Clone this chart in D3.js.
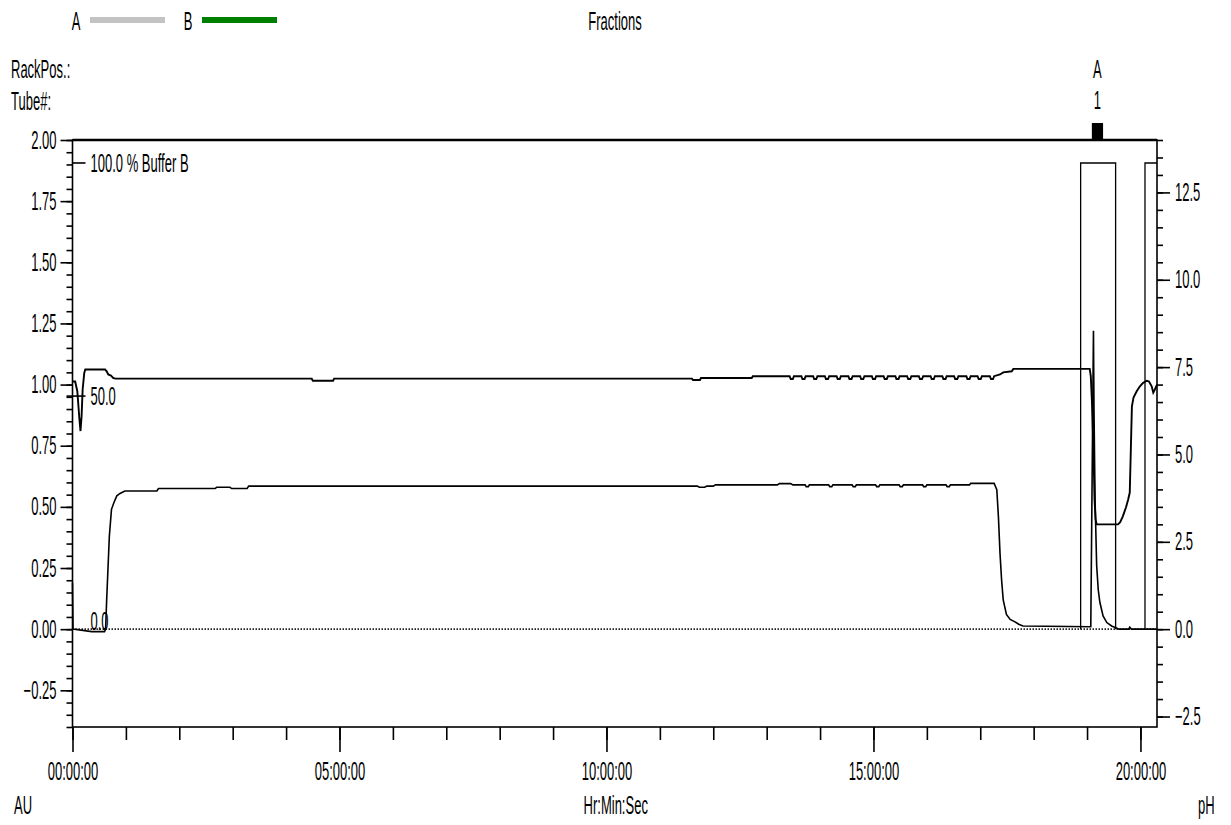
<!DOCTYPE html>
<html>
<head>
<meta charset="utf-8">
<script src="https://cdn.jsdelivr.net/npm/d3@7"></script>
<style>
  body { margin: 0; background: #fff; }
  svg text { font-family: "Liberation Sans", Arial, sans-serif; font-size: 25px; fill: #000; }
</style>
</head>
<body>
<div class="chart"></div>
<script>
// time in hours, UV in AU, pH in pH units, %B in percent
const uvTrace = [
  [0.00, 0.19], [0.01, 0.00], [0.36, -0.01], [0.60, -0.01], [0.62, 0.00],
  [0.64, 0.12], [0.69, 0.38], [0.73, 0.49], [0.78, 0.52], [0.83, 0.545],
  [0.89, 0.555], [0.98, 0.565], [1.58, 0.565], [1.61, 0.575], [2.67, 0.575],
  [2.70, 0.58], [2.95, 0.58], [2.98, 0.575], [3.27, 0.575], [3.30, 0.585],
  [11.70, 0.585], [11.74, 0.58], [11.84, 0.58], [11.88, 0.585], [12.00, 0.585],
  [12.04, 0.59], [13.20, 0.59], [13.24, 0.595], [13.45, 0.595], [13.49, 0.59],
  [13.72, 0.59], [13.74, 0.583], [13.78, 0.583], [13.80, 0.59],
  [14.16, 0.59], [14.18, 0.583], [14.22, 0.583], [14.24, 0.59],
  [14.60, 0.59], [14.62, 0.583], [14.66, 0.583], [14.68, 0.59],
  [15.04, 0.59], [15.06, 0.583], [15.10, 0.583], [15.12, 0.59],
  [15.48, 0.59], [15.50, 0.583], [15.54, 0.583], [15.56, 0.59],
  [15.92, 0.59], [15.94, 0.583], [15.98, 0.583], [16.00, 0.59],
  [16.36, 0.59], [16.38, 0.583], [16.42, 0.583], [16.44, 0.59],
  [16.80, 0.59], [16.82, 0.596], [17.26, 0.596], [17.31, 0.57],
  [17.34, 0.46], [17.37, 0.31], [17.40, 0.20], [17.43, 0.12], [17.49, 0.06],
  [17.56, 0.04], [17.65, 0.03], [17.72, 0.02], [17.80, 0.013], [19.07, 0.01],
  [19.12, 1.22], [19.13, 0.90], [19.15, 0.53], [19.18, 0.26], [19.21, 0.16],
  [19.24, 0.11], [19.30, 0.054], [19.37, 0.027], [19.46, 0.013], [19.55, 0.005],
  [19.60, 0.00], [19.78, 0.00], [19.80, 0.008], [19.83, 0.00], [20.31, 0.00]
];

const phTrace = [
  [0.00, 7.09], [0.05, 7.09], [0.09, 6.81], [0.13, 6.00], [0.15, 5.67],
  [0.17, 6.09], [0.19, 6.86], [0.22, 7.33], [0.24, 7.43], [0.61, 7.43],
  [0.64, 7.38], [0.67, 7.29], [0.72, 7.26], [0.76, 7.19], [0.80, 7.17],
  [4.48, 7.17], [4.50, 7.11], [4.88, 7.11], [4.90, 7.17], [11.60, 7.17],
  [11.62, 7.13], [11.75, 7.13], [11.77, 7.19], [12.72, 7.19], [12.74, 7.24],
  [13.43, 7.24], [13.45, 7.16], [13.49, 7.16], [13.51, 7.24],
  [13.65, 7.24], [13.67, 7.16], [13.71, 7.16], [13.73, 7.24],
  [13.87, 7.24], [13.89, 7.16], [13.93, 7.16], [13.95, 7.24],
  [14.09, 7.24], [14.11, 7.16], [14.15, 7.16], [14.17, 7.24],
  [14.31, 7.24], [14.33, 7.16], [14.37, 7.16], [14.39, 7.24],
  [14.53, 7.24], [14.55, 7.16], [14.59, 7.16], [14.61, 7.24],
  [14.75, 7.24], [14.77, 7.16], [14.81, 7.16], [14.83, 7.24],
  [14.97, 7.24], [14.99, 7.16], [15.03, 7.16], [15.05, 7.24],
  [15.19, 7.24], [15.21, 7.16], [15.25, 7.16], [15.27, 7.24],
  [15.41, 7.24], [15.43, 7.16], [15.47, 7.16], [15.49, 7.24],
  [15.63, 7.24], [15.65, 7.16], [15.69, 7.16], [15.71, 7.24],
  [15.85, 7.24], [15.87, 7.16], [15.91, 7.16], [15.93, 7.24],
  [16.07, 7.24], [16.09, 7.16], [16.13, 7.16], [16.15, 7.24],
  [16.29, 7.24], [16.31, 7.16], [16.35, 7.16], [16.37, 7.24],
  [16.51, 7.24], [16.53, 7.16], [16.57, 7.16], [16.59, 7.24],
  [16.74, 7.24], [16.76, 7.16], [16.80, 7.16], [16.82, 7.24],
  [16.95, 7.24], [16.97, 7.16], [17.01, 7.16], [17.03, 7.24],
  [17.18, 7.24], [17.20, 7.16], [17.24, 7.16], [17.26, 7.24],
  [17.37, 7.29], [17.43, 7.35], [17.59, 7.38], [17.62, 7.45], [19.05, 7.45],
  [19.07, 7.24], [19.09, 6.57], [19.12, 5.14], [19.14, 3.71], [19.16, 3.14],
  [19.18, 3.00], [19.58, 3.00], [19.62, 3.06], [19.67, 3.23], [19.73, 3.49],
  [19.77, 3.71], [19.80, 3.91], [19.82, 5.14], [19.84, 6.38], [19.87, 6.63],
  [19.93, 6.81], [19.99, 6.95], [20.05, 7.05], [20.12, 7.11], [20.16, 7.09],
  [20.21, 6.95], [20.24, 6.77], [20.27, 6.86], [20.31, 7.00]
];

// null marks a gap in the concentration line
const bufferB = [
  [18.88, 0], [18.88, 100], [19.535, 100], [19.535, 0], [19.535, null],
  [20.085, 0], [20.085, 100], [20.31, 100]
];
const bufferMarks = [0, 50, 100];
const bufferMarkLabels = ["0.0", "50.0", "100.0 % Buffer B"];

const fractions = [{rack: "A", tube: "1", start: 19.09, end: 19.30}];

const xTicks = [0, 5, 10, 15, 20];
const xTickLabels = ["00:00:00", "05:00:00", "10:00:00", "15:00:00", "20:00:00"];
const auTicks = [-0.25, 0, 0.25, 0.5, 0.75, 1.0, 1.25, 1.5, 1.75, 2.0];
const phTicks = [-2.5, 0, 2.5, 5.0, 7.5, 10.0, 12.5];

const legend = [{name: "A", color: "#c3c3c3"}, {name: "B", color: "#008000"}];

const width = 1231, height = 825;
const margin = {top: 140, right: 74, bottom: 98, left: 72.5};
const x0 = margin.left, x1 = width - margin.right;
const y0 = margin.top, y1 = height - margin.bottom;

const svg = d3.select(".chart").append("svg")
  .attr("width", width).attr("height", height);

const x = d3.scaleLinear().domain([0, 20.31]).range([x0, x1]);
const yAU = d3.scaleLinear().domain([-0.4, 2.0]).range([y1, y0]);
const yPH = d3.scaleLinear().domain([-2.8, 14.0]).range([y1, y0]);
const yB = d3.scaleLinear().domain([0, 100]).range([yAU(0), yAU(1.906)]);

// legend + header
legend.forEach((d, i) => {
  const lx = 90 + i * 112;
  svg.append("text").attr("x", lx - 14).attr("y", 30).attr("text-anchor", "middle").text(d.name);
  svg.append("line").attr("x1", lx).attr("x2", lx + 75).attr("y1", 20).attr("y2", 20)
    .attr("stroke", d.color).attr("stroke-width", 6);
});
svg.append("text").attr("x", 615).attr("y", 30).attr("text-anchor", "middle").text("Fractions");
svg.append("text").attr("x", 11).attr("y", 78).text("RackPos.:");
svg.append("text").attr("x", 11).attr("y", 110).text("Tube#:");

fractions.forEach(f => {
  const cx = x((f.start + f.end) / 2);
  svg.append("text").attr("x", cx).attr("y", 78).attr("text-anchor", "middle").text(f.rack);
  svg.append("text").attr("x", cx).attr("y", 109).attr("text-anchor", "middle").text(f.tube);
  svg.append("rect").attr("x", x(f.start)).attr("y", y0 - 17)
    .attr("width", x(f.end) - x(f.start)).attr("height", 17).attr("fill", "#000");
});

// axes
const styleAxis = g => g.call(g => g.select(".domain").remove())
  .call(g => g.selectAll(".tick line").attr("stroke", "#000").attr("stroke-width", 1.6));

svg.append("g").attr("transform", `translate(${x0},0)`)
  .call(d3.axisLeft(yAU).tickValues(d3.range(-0.4, 2.0001, 0.05)).tickSize(6).tickFormat(""))
  .call(styleAxis);
svg.append("g").attr("transform", `translate(${x0},0)`)
  .call(d3.axisLeft(yAU).tickValues(auTicks).tickSize(12).tickPadding(4).tickFormat(d3.format(".2f")))
  .call(styleAxis);

svg.append("g").attr("transform", `translate(${x1},0)`)
  .call(d3.axisRight(yPH).tickValues(d3.range(-2.5, 14.0001, 0.5)).tickSize(6).tickFormat(""))
  .call(styleAxis);
svg.append("g").attr("transform", `translate(${x1},0)`)
  .call(d3.axisRight(yPH).tickValues(phTicks).tickSize(13).tickPadding(5).tickFormat(d3.format(".1f")))
  .call(styleAxis);

svg.append("g").attr("transform", `translate(0,${y1})`)
  .call(d3.axisBottom(x).tickValues(d3.range(0, 20.5, 1)).tickSize(13).tickFormat(""))
  .call(styleAxis);
svg.append("g").attr("transform", `translate(0,${y1})`)
  .call(d3.axisBottom(x).tickValues(xTicks).tickSize(25).tickPadding(10)
    .tickFormat((d, i) => xTickLabels[i]))
  .call(styleAxis);

// frame
svg.append("rect").attr("x", x0).attr("y", y0).attr("width", x1 - x0).attr("height", y1 - y0)
  .attr("fill", "none").attr("stroke", "#000").attr("stroke-width", 1.6);
svg.append("line").attr("x1", x0).attr("x2", x1).attr("y1", y0).attr("y2", y0)
  .attr("stroke", "#000").attr("stroke-width", 2.6);

// zero line
svg.append("line").attr("x1", x0).attr("x2", x1).attr("y1", yAU(0)).attr("y2", yAU(0))
  .attr("stroke", "#222").attr("stroke-width", 1.6).attr("stroke-dasharray", "1.5,1.5");

// buffer B markers
bufferMarks.forEach((b, i) => {
  if (b > 0) {
    svg.append("line").attr("x1", b === 50 ? x0 - 6 : x0).attr("x2", x0 + 13)
      .attr("y1", yB(b)).attr("y2", yB(b)).attr("stroke", "#000").attr("stroke-width", 1.6);
  }
  svg.append("text").attr("x", x0 + 18).attr("y", b === 0 ? yB(b) + 1 : yB(b) + 9)
    .text(bufferMarkLabels[i]);
});

// traces
const lineAU = d3.line().x(d => x(d[0])).y(d => yAU(d[1]));
const linePH = d3.line().x(d => x(d[0])).y(d => yPH(d[1]));
const lineB = d3.line().defined(d => d[1] !== null).x(d => x(d[0])).y(d => yB(d[1]));

svg.append("path").datum(bufferB).attr("d", lineB)
  .attr("fill", "none").attr("stroke", "#000").attr("stroke-width", 1.3);
svg.append("path").datum(phTrace).attr("d", linePH)
  .attr("fill", "none").attr("stroke", "#000").attr("stroke-width", 1.9);
svg.append("path").datum(uvTrace).attr("d", lineAU)
  .attr("fill", "none").attr("stroke", "#000").attr("stroke-width", 1.6);

// axis titles
svg.append("text").attr("x", 14).attr("y", 814).text("AU");
svg.append("text").attr("x", (x0 + x1) / 2 + 1).attr("y", 814).attr("text-anchor", "middle").text("Hr:Min:Sec");
svg.append("text").attr("x", 1198).attr("y", 814).text("pH");

// the original font is very condensed
svg.selectAll("text").each(function() {
  const w = this.getComputedTextLength();
  if (w > 0) {
    this.setAttribute("textLength", w * 0.52);
    this.setAttribute("lengthAdjust", "spacingAndGlyphs");
  }
});
</script>
</body>
</html>
